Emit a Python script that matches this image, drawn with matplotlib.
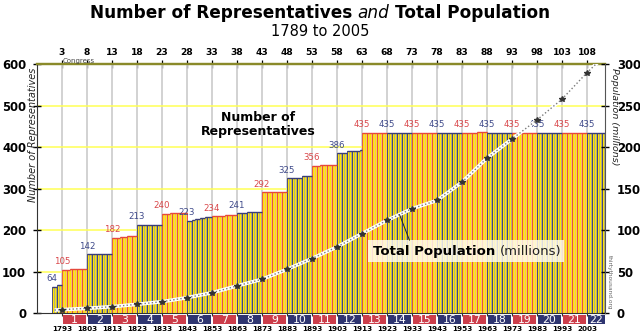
import numpy as np
import matplotlib
matplotlib.use("Agg")
import matplotlib.pyplot as plt
from matplotlib.patches import Rectangle
import matplotlib.transforms as mtransforms

# ---------------- data ----------------
rep_step_years = [1789, 1791, 1793, 1796, 1803, 1812, 1813, 1816, 1817, 1819, 1820,
                  1823, 1833, 1836, 1843, 1845, 1846, 1848, 1850, 1853, 1858, 1859,
                  1863, 1864, 1867, 1873, 1876, 1883, 1889, 1890, 1893, 1896, 1903,
                  1907, 1912, 1913, 1959, 1960, 1963]
rep_step_values = [64, 68, 105, 106, 142, 143, 182, 183, 185, 186, 187,
                   213, 240, 242, 223, 225, 227, 230, 232, 234, 237, 238,
                   241, 242, 243, 292, 293, 325, 330, 332, 356, 357, 386,
                   391, 394, 435, 436, 437, 435]
bar_years = list(range(1789, 2010))

label_years = [1789, 1793, 1803, 1813, 1823, 1833, 1843, 1853, 1863, 1873, 1883,
               1893, 1903, 1913, 1923, 1933, 1943, 1953, 1963, 1973, 1983, 1993, 2003]
label_values = [64, 105, 142, 182, 213, 240, 223, 234, 241, 292, 325,
                356, 386, 435, 435, 435, 435, 435, 435, 435, 435, 435, 435]

pop_years = [1790, 1793, 1803, 1813, 1823, 1833, 1843, 1853, 1863, 1873, 1883, 1893,
             1903, 1913, 1923, 1933, 1943, 1953, 1963, 1973, 1983, 1993, 2003, 2010]
pop_values = [3.9, 4.4, 6.0, 8.0, 10.8, 14.0, 18.8, 24.8, 33.0, 41.0, 53.0, 66.0,
              80.0, 96.0, 112.0, 126.0, 136.0, 158.0, 187.0, 210.0, 233.0, 258.0, 290.0, 310.0]

congress_ticks = list(range(3, 109, 5))
decade_years = [1793 + 10 * i for i in range(22)]
census_numbers = list(range(1, 23))

# ---------------- style ----------------
RED_EDGE, RED_FACE = "#e5473b", "#f6c46e"
BLUE_EDGE, BLUE_FACE = "#383c78", "#b4b07a"
YELLOW = "#ffe600"
RED_TXT, BLUE_TXT = "#d9474a", "#3f4a8a"
BOX_RED, BOX_BLUE = "#cc3d4a", "#2e3570"

fig = plt.figure(figsize=(6.4, 3.33), dpi=100)
ax = fig.add_axes([37 / 640, 19.7 / 333, 568 / 640, 249 / 333])
ax.set_xlim(1783, 2010.2)
ax.set_ylim(0, 600)

years = np.array(bar_years)
idx = np.searchsorted(rep_step_years, years, side="right") - 1
heights = np.array(rep_step_values)[idx]
period = np.where(years >= 1793, (years - 1793) // 10 + 1, 0)
is_red = period % 2 == 1
faces = [RED_FACE if r else BLUE_FACE for r in is_red]
edges = [RED_EDGE if r else BLUE_EDGE for r in is_red]

# grid
for d in decade_years:
    ax.axvline(d, color="#cfcfcf", lw=1.3, zorder=0.5)
for g in range(100, 600, 100):
    ax.axhline(g, color="#ffff55", lw=1.1, zorder=0.5)

ax.bar(years, heights, width=1, align="edge", color=faces, edgecolor=edges,
       linewidth=0.6, zorder=2)
ax.bar(years + 0.55, heights - 2.5, width=0.38, align="center", color=YELLOW,
       linewidth=0, zorder=3)
ax.hlines(heights, years, years + 1, colors=edges, lw=1.0, zorder=4)

for yv, val in zip(label_years, label_values):
    p = 0 if yv < 1793 else (yv - 1793) // 10 + 1
    col = RED_TXT if p % 2 == 1 else BLUE_TXT
    h = heights[list(bar_years).index(yv)]
    ax.annotate(str(val), (yv, h), xytext=(0, 2.5), textcoords="offset points",
                ha="center", va="bottom", fontsize=6.2, color=col, zorder=6)

ax.text(1871.4, 455, "Number of\nRepresentatives", ha="center", va="center",
        fontsize=9, fontweight="bold", linespacing=1.05, zorder=6)

# spines / ticks
for s in ["left", "bottom"]:
    ax.spines[s].set_color("#333333")
ax.spines["top"].set_color("#8a8a2a")
ax.spines["top"].set_linewidth(1.6)
ax.spines["right"].set_visible(False)
ax.set_yticks(range(0, 601, 100))
ax.tick_params(axis="y", direction="inout", length=6, width=1, pad=4.8, labelsize=8.4)
for t in ax.get_yticklabels():
    t.set_fontweight("bold")
ax.set_xticks(decade_years)
ax.set_xticklabels([str(d) for d in decade_years], fontsize=5.2, fontweight="bold")
ax.tick_params(axis="x", direction="out", length=2.5, width=0.8, pad=6.5, color="#333333")

sec = ax.secondary_xaxis("top")
sec.set_xticks(decade_years)
sec.set_xticklabels([str(c) for c in congress_ticks], fontsize=6.6, fontweight="bold")
sec.tick_params(direction="inout", length=6, width=0.9, pad=2.5)
sec.spines["top"].set_color("#8a8a2a")
sec.spines["top"].set_linewidth(1.6)

ax.text(1793.4, 601, "Congress", fontsize=5, ha="left", va="bottom", color="#444444")

# census boxes below axis
trans = mtransforms.blended_transform_factory(ax.transData, ax.transAxes)
for n, d in zip(census_numbers, decade_years):
    x0 = d + 0.3
    x1 = min(d + 9.7, 2010.2)
    col = BOX_RED if n % 2 == 1 else BOX_BLUE
    ax.add_patch(Rectangle((x0, -0.044), x1 - x0, 0.037, transform=trans,
                           facecolor=col, edgecolor="none", clip_on=False, zorder=5))
    ax.text((x0 + x1) / 2, -0.0255, str(n), transform=trans, ha="center", va="center",
            color="white", fontsize=7.8, zorder=6, clip_on=False)

ax.text(-0.0075, 0.985, "Number of Representatives", transform=ax.transAxes,
        rotation=90, ha="center", va="top", fontsize=7, style="italic", color="#222222")

# population axis
ax2 = ax.twinx()
ax2.set_ylim(0, 300)
ax2.set_xlim(1783, 2010.2)
ax2.plot(pop_years, pop_values, color="white", lw=2.6, zorder=3, solid_capstyle="butt")
ax2.plot(pop_years, pop_values, color="#7a7a7a", lw=1.0, ls=(0, (1, 1.6)), zorder=4)
ax2.plot(pop_years[1:-1], pop_values[1:-1], ls="none", marker="*", ms=4.2,
         color="#333333", zorder=5)
ax2.set_yticks(range(0, 301, 50))
ax2.tick_params(axis="y", direction="inout", length=6, width=1, pad=5.5, labelsize=8.4)
for t in ax2.get_yticklabels():
    t.set_fontweight("bold")
for s in ["left", "bottom", "top"]:
    ax2.spines[s].set_visible(False)
ax2.spines["right"].set_color("#555555")

ax2.text(1.008, 0.985, "Population (millions)", transform=ax2.transAxes,
         rotation=-90, ha="left", va="top", fontsize=6.8, style="italic", color="#222222")
ax2.text(1.004, 0.235, "thirtythousand.org", transform=ax2.transAxes,
         rotation=-90, ha="left", va="top", fontsize=4.2, color="#666666")

# Total population label with pale box
ax2.add_patch(Rectangle((0.582, 0.205), 0.345, 0.088, transform=ax2.transAxes,
                        facecolor="#fffdf5", alpha=0.82, edgecolor="none", zorder=6))
tp = ax2.text(1917.4, 74, "Total Population", ha="left", va="center", fontsize=9.5,
              fontweight="bold", zorder=7)
ax2.annotate("", xy=(1928, 119), xytext=(1932.0, 88), textcoords="data", zorder=7,
             arrowprops=dict(arrowstyle="-", lw=0.7, color="#222222",
                             shrinkA=0, shrinkB=0))

fig.canvas.draw()
renderer = fig.canvas.get_renderer()
bb = tp.get_window_extent(renderer)
ax2.text(bb.x1 + 5, (bb.y0 + bb.y1) / 2, "(millions)", transform=None,
         ha="left", va="center", fontsize=9.5, zorder=7, color="#222222")


def place_row(pieces, yfig, fontsize):
    objs = []
    for txt, kw in pieces:
        o = fig.text(0, yfig, txt, fontsize=fontsize, va="center", ha="left", **kw)
        objs.append(o)
    fig.canvas.draw()
    gap = 0.32 * fontsize * 100 / 72
    widths = [o.get_window_extent(renderer).width for o in objs]
    total = sum(widths) + gap * (len(objs) - 1)
    x = 320 - total / 2
    for o, w in zip(objs, widths):
        o.set_x(x / 640)
        x += w + gap


place_row([("Number of Representatives", dict(fontweight="bold")),
           ("and", dict(style="italic")),
           ("Total Population", dict(fontweight="bold"))], 1 - 13 / 333, 12.2)
fig.text(0.5, 1 - 32 / 333, "1789 to 2005", ha="center", va="center", fontsize=10.5)

fig.savefig("out.png", dpi=100)
